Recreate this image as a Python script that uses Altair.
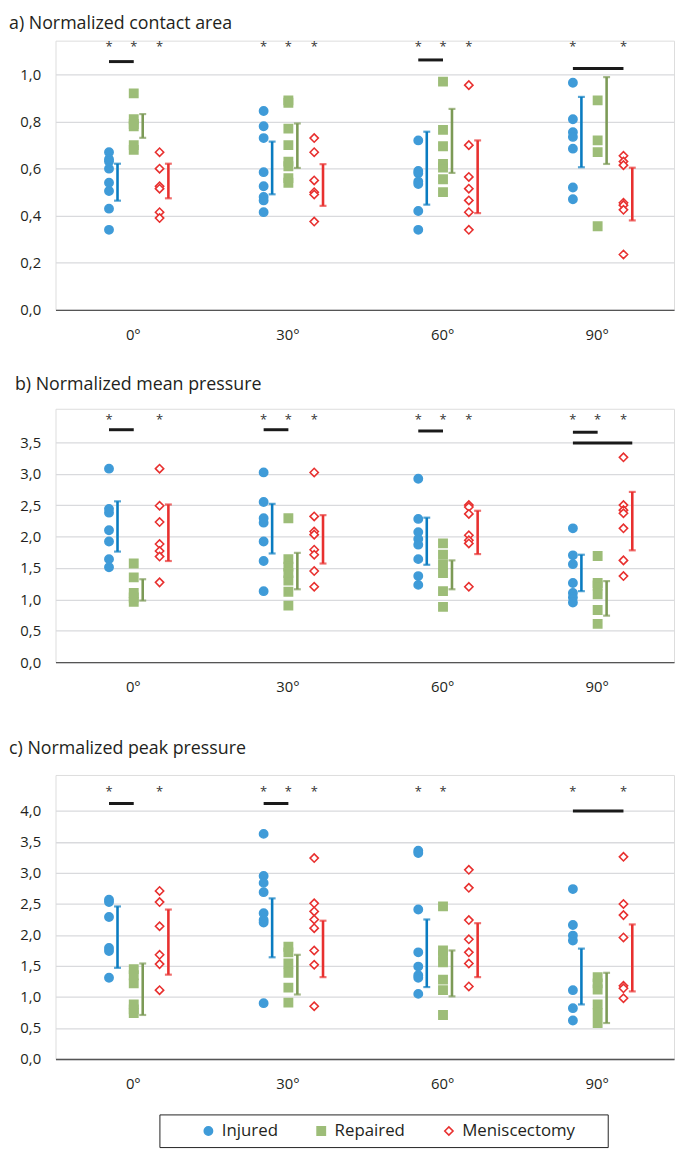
import json
import altair as alt
import pandas as pd

# ---------------- data ----------------
ANGLES = ["0°", "30°", "60°", "90°"]
GROUPS = ["Injured", "Repaired", "Meniscectomy"]

# a) Normalized contact area  (one list per angle)
A_INJ = [[0.67, 0.64, 0.63, 0.60, 0.54, 0.505, 0.43, 0.34],
         [0.845, 0.78, 0.73, 0.585, 0.525, 0.48, 0.465, 0.415],
         [0.72, 0.59, 0.58, 0.545, 0.535, 0.42, 0.34],
         [0.965, 0.81, 0.755, 0.735, 0.685, 0.52, 0.47]]
A_REP = [[0.92, 0.81, 0.79, 0.78, 0.70, 0.68],
         [0.89, 0.88, 0.77, 0.70, 0.63, 0.61, 0.56, 0.54],
         [0.97, 0.765, 0.695, 0.62, 0.605, 0.555, 0.50],
         [0.89, 0.72, 0.67, 0.355]]
A_MEN = [[0.67, 0.60, 0.525, 0.515, 0.415, 0.39],
         [0.73, 0.67, 0.55, 0.50, 0.49, 0.375],
         [0.955, 0.70, 0.565, 0.515, 0.465, 0.415, 0.34],
         [0.655, 0.63, 0.615, 0.455, 0.445, 0.425, 0.235]]
A_ERR_LO = {"Injured": [0.464, 0.491, 0.447, 0.606],
            "Repaired": [0.731, 0.603, 0.582, 0.620],
            "Meniscectomy": [0.474, 0.442, 0.411, 0.380]}
A_ERR_HI = {"Injured": [0.621, 0.715, 0.757, 0.905],
            "Repaired": [0.832, 0.792, 0.854, 0.989],
            "Meniscectomy": [0.621, 0.619, 0.720, 0.604]}
A_STARS = [(0, "I"), (0, "R"), (0, "M"), (1, "I"), (1, "R"), (1, "M"),
           (2, "I"), (2, "R"), (2, "M"), (3, "I"), (3, "M")]
A_BARS = [(0, "I", "R", 1.055), (2, "I", "R", 1.062), (3, "I", "M", 1.026)]

# b) Normalized mean pressure
B_INJ = [[3.08, 2.44, 2.38, 2.10, 1.92, 1.64, 1.51],
         [3.02, 2.55, 2.29, 2.22, 1.92, 1.61, 1.13],
         [2.92, 2.28, 2.07, 1.96, 1.87, 1.64, 1.37, 1.23],
         [2.13, 1.70, 1.56, 1.26, 1.10, 1.03, 0.95]]
B_REP = [[1.57, 1.35, 1.10, 1.03, 0.96],
         [2.29, 1.64, 1.52, 1.42, 1.30, 1.12, 0.90],
         [1.89, 1.71, 1.55, 1.42, 1.13, 0.88],
         [1.69, 1.26, 1.22, 1.08, 0.83, 0.61]]
B_MEN = [[3.08, 2.49, 2.23, 1.88, 1.77, 1.68, 1.27],
         [3.02, 2.32, 2.08, 2.03, 1.79, 1.71, 1.45, 1.20],
         [2.50, 2.47, 2.36, 2.02, 1.94, 1.89, 1.20],
         [3.26, 2.50, 2.42, 2.37, 2.13, 1.62, 1.37]]
B_ERR_LO = {"Injured": [1.76, 1.73, 1.55, 1.13],
            "Repaired": [0.98, 1.16, 1.16, 0.74],
            "Meniscectomy": [1.61, 1.57, 1.72, 1.78]}
B_ERR_HI = {"Injured": [2.56, 2.52, 2.30, 1.71],
            "Repaired": [1.32, 1.74, 1.62, 1.29],
            "Meniscectomy": [2.51, 2.34, 2.41, 2.71]}
B_STARS = [(0, "I"), (0, "M"), (1, "I"), (1, "R"), (1, "M"),
           (2, "I"), (2, "R"), (2, "M"), (3, "I"), (3, "R"), (3, "M")]
B_BARS = [(0, "I", "R", 3.70), (1, "I", "R", 3.70), (2, "I", "R", 3.68),
          (3, "I", "R", 3.66), (3, "I", "Me", 3.49)]

# c) Normalized peak pressure
C_INJ = [[2.57, 2.53, 2.29, 1.79, 1.74, 1.31],
         [3.63, 2.95, 2.84, 2.69, 2.35, 2.24, 2.20, 0.90],
         [3.36, 3.32, 2.41, 1.72, 1.49, 1.35, 1.31, 1.05],
         [2.74, 2.16, 1.99, 1.91, 1.11, 0.82, 0.62]]
C_REP = [[1.45, 1.35, 1.22, 0.88, 0.80, 0.74],
         [1.81, 1.72, 1.54, 1.39, 1.15, 0.91],
         [2.46, 1.75, 1.67, 1.56, 1.28, 1.11, 0.71],
         [1.32, 1.22, 1.12, 0.88, 0.74, 0.58]]
C_MEN = [[2.71, 2.53, 2.14, 1.68, 1.53, 1.11],
         [3.24, 2.51, 2.38, 2.25, 2.11, 1.75, 1.52, 0.85],
         [3.05, 2.76, 2.24, 1.93, 1.72, 1.54, 1.17],
         [3.26, 2.50, 2.32, 1.96, 1.18, 1.14, 0.98]]
C_ERR_LO = {"Injured": [1.47, 1.64, 1.16, 0.88],
            "Repaired": [0.71, 1.04, 1.01, 0.58],
            "Meniscectomy": [1.36, 1.32, 1.32, 1.09]}
C_ERR_HI = {"Injured": [2.46, 2.59, 2.25, 1.78],
            "Repaired": [1.54, 1.68, 1.75, 1.39],
            "Meniscectomy": [2.41, 2.23, 2.19, 2.17]}
C_STARS = [(0, "I"), (0, "M"), (1, "I"), (1, "R"), (1, "M"),
           (2, "I"), (2, "R"), (3, "I"), (3, "M")]
C_BARS = [(0, "I", "R", 4.12), (1, "I", "R", 4.12), (3, "I", "M", 4.00)]

STAR_LEVEL = {"a": 1.115, "b": 3.85, "c": 4.30}

# ---------------- style / layout ----------------
FONT = "Open Sans"
TXT = "#231f20"
PT_FILL = ["#3f9bd8", "#9dbd78", "#ffffff"]
PT_STROKE = ["#3f9bd8", "#9dbd78", "#e8302f"]
SHAPES = ["circle", "square", "diamond"]
ERR_COLORS = ["#0a7cc1", "#7c9a56", "#e8302f"]
# horizontal position inside each angle slot (fraction of slot width)
OFF = {"I": -0.154, "Ie": -0.099, "R": 0.006, "Re": 0.064, "M": 0.173, "Me": 0.230}
GKEY = {"Injured": "I", "Repaired": "R", "Meniscectomy": "M"}
PLOT_W = 625

label_expr = "%s[datum.value]" % json.dumps(ANGLES, ensure_ascii=False)
xscale = alt.Scale(domain=[-0.5, 3.5], nice=False, zero=False)
xaxis = alt.Axis(values=[0, 1, 2, 3], labelExpr=label_expr, grid=False, ticks=False,
                 domain=True, domainColor="#555555", domainWidth=1.3, labelPadding=18,
                 labelFontSize=15, labelColor=TXT, labelFont=FONT, title=None)

# blank (non-whitespace) padding glyphs widen the legend box on the right
PAD_RIGHT = "\u2800\u2800"
LEGEND = alt.Legend(orient="none", legendX=105, legendY=343, direction="horizontal",
                    title="\u2003", titleOrient="left", titlePadding=33, titleFontSize=17,
                    strokeColor="#222222", padding=8, columnPadding=35,
                    labelFontSize=17, labelFont=FONT, labelColor=TXT, labelOffset=5,
                    labelLimit=400, symbolSize=70, symbolStrokeWidth=1.6,
                    labelExpr="datum.label == 'Meniscectomy' ? datum.label + '%s' : datum.label" % PAD_RIGHT)


def X(field):
    return alt.X(field, type="quantitative", scale=xscale, axis=xaxis)


def panel(title, inj, rep, men, err_lo, err_hi, stars, bars, ymax, yticks, px_per_unit,
          title_dx=0, title_offset=8, legend=None):
    rows = []
    for g, series in zip(GROUPS, [inj, rep, men]):
        for i, vals in enumerate(series):
            for v in vals:
                rows.append({"group": g, "x": i + OFF[GKEY[g]], "v": v})
    pts = pd.DataFrame(rows)

    erows = []
    for g in GROUPS:
        for i in range(len(ANGLES)):
            erows.append({"group": g, "x": i + OFF[GKEY[g] + "e"],
                          "lo": err_lo[g][i], "hi": err_hi[g][i]})
    err = pd.DataFrame(erows)

    level = STAR_LEVEL[title[0]]
    sdf = pd.DataFrame([{"x": i + OFF[k], "y": level} for i, k in stars])
    bdf = pd.DataFrame([{"x": i + OFF[a], "x2": i + OFF[b], "y": lvl} for i, a, b, lvl in bars])
    height = round(ymax * px_per_unit)

    yscale = alt.Scale(domain=[0, ymax], nice=False, zero=True)
    yaxis = alt.Axis(values=yticks, format=".1f", labelExpr="replace(datum.label, '.', ',')",
                     grid=True, gridColor="#d9dadd", gridWidth=1.3, domain=False, ticks=False,
                     labelFontSize=15, labelColor=TXT, labelFont=FONT, labelPadding=15,
                     minExtent=45, maxExtent=45, title=None)

    def Y(field):
        return alt.Y(field, type="quantitative", scale=yscale, axis=yaxis)

    points = alt.Chart(pts).mark_point(size=70, strokeWidth=1.6, opacity=1, fillOpacity=1).encode(
        x=X("x"), y=Y("v"),
        shape=alt.Shape("group:N", scale=alt.Scale(domain=GROUPS, range=SHAPES), legend=legend),
        fill=alt.Fill("group:N", scale=alt.Scale(domain=GROUPS, range=PT_FILL), legend=legend),
        stroke=alt.Stroke("group:N", scale=alt.Scale(domain=GROUPS, range=PT_STROKE), legend=legend),
    )
    ecolor = alt.Color("group:N", scale=alt.Scale(domain=GROUPS, range=ERR_COLORS), legend=None)
    rules = alt.Chart(err).mark_rule(strokeWidth=2.6).encode(x=X("x"), y=Y("lo"), y2="hi", color=ecolor)
    caps = alt.Chart(err).transform_fold(["lo", "hi"], as_=["k", "val"]).mark_tick(
        orient="horizontal", size=7, thickness=2.2).encode(x=X("x"), y=Y("val"), color=ecolor)
    sig = alt.Chart(bdf).mark_rule(color="#1a1a1a", strokeWidth=3).encode(x=X("x"), x2="x2", y=Y("y"))
    st = alt.Chart(sdf).mark_text(text="*", fontSize=13, color="#333333", font=FONT,
                                  baseline="middle").encode(x=X("x"), y=Y("y"))

    return alt.layer(rules, caps, points, sig, st).properties(
        width=PLOT_W, height=height,
        title=alt.TitleParams(title, anchor="start", frame="bounds", fontSize=18, font=FONT,
                              fontWeight="normal", color=TXT, offset=title_offset, dx=title_dx),
    )


pa = panel("a) Normalized contact area", A_INJ, A_REP, A_MEN, A_ERR_LO, A_ERR_HI, A_STARS, A_BARS,
           1.144, [0, 0.2, 0.4, 0.6, 0.8, 1.0], 237.7, title_dx=-2, title_offset=8)
pb = panel("b) Normalized mean pressure", B_INJ, B_REP, B_MEN, B_ERR_LO, B_ERR_HI, B_STARS, B_BARS,
           4.033, [0, 0.5, 1.0, 1.5, 2.0, 2.5, 3.0, 3.5], 63.43, title_dx=4, title_offset=15)
pc = panel("c) Normalized peak pressure", C_INJ, C_REP, C_MEN, C_ERR_LO, C_ERR_HI, C_STARS, C_BARS,
           4.58, [0, 0.5, 1.0, 1.5, 2.0, 2.5, 3.0, 3.5, 4.0], 62.7, title_dx=-2, title_offset=17,
           legend=LEGEND)

RES = dict(shape="independent", fill="independent", stroke="independent")
top = alt.vconcat(pa, pb, spacing=32).resolve_scale(y="independent").resolve_legend(**RES)
chart = alt.vconcat(top, pc, spacing=44).resolve_scale(y="independent").resolve_legend(**RES).properties(
    padding={"left": 0, "top": 0, "right": 2, "bottom": 0}
).configure_view(stroke=None).configure(font=FONT)

chart.save("out.html", embed_options={"renderer": "svg", "actions": False})
